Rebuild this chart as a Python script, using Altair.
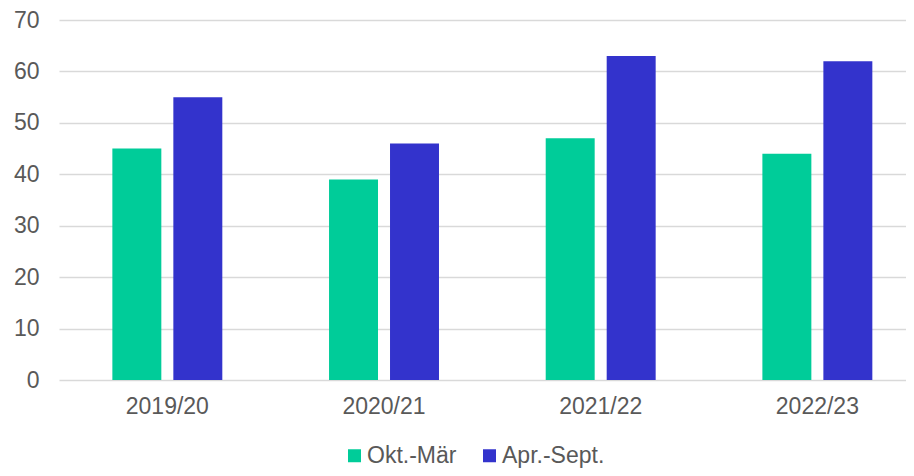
import altair as alt
import pandas as pd

seasons = ["2019/20", "2020/21", "2021/22", "2022/23"]
series = ["Okt.-Mär", "Apr.-Sept."]
okt_maer = [45, 39, 47, 44]
apr_sept = [55, 46, 63, 62]
colors = ["#00CC99", "#3333CC"]
y_ticks = [0, 10, 20, 30, 40, 50, 60, 70]

rows = []
for i, s in enumerate(seasons):
    rows.append({"season": s, "series": series[0], "value": okt_maer[i]})
    rows.append({"season": s, "series": series[1], "value": apr_sept[i]})
df = pd.DataFrame(rows)

FONT = "Liberation Sans"
TXT = "#595959"

chart = alt.Chart(df).mark_bar().encode(
    x=alt.X("season:N", sort=seasons, title=None,
            scale=alt.Scale(range=[0, 866.7], paddingInner=0, paddingOuter=0),
            axis=alt.Axis(labelAngle=0, domain=False, ticks=False, labelPadding=15,
                          labelFontSize=23, labelColor=TXT, labelFont=FONT, grid=False)),
    xOffset=alt.XOffset("series:N", sort=series,
                        scale=alt.Scale(paddingInner=0.197, paddingOuter=0.875)),
    y=alt.Y("value:Q", title=None,
            scale=alt.Scale(domain=[0, 70], nice=False),
            axis=alt.Axis(values=y_ticks, domain=False, ticks=False, labelPadding=20,
                          labelFontSize=23, labelColor=TXT, labelFont=FONT,
                          gridColor="#d9d9d9", gridWidth=1.3)),
    color=alt.Color("series:N", sort=series,
                    scale=alt.Scale(domain=series, range=colors),
                    legend=alt.Legend(title=None, orient="none", direction="horizontal",
                                      legendX=284, legendY=424, padding=0,
                                      symbolType="square", symbolSize=169,
                                      symbolStrokeWidth=0, labelOffset=1,
                                      columnPadding=21, labelFontSize=23,
                                      labelColor=TXT, labelFont=FONT)),
).properties(
    width=847, height=360,
    autosize=alt.AutoSizeParams(type="none"),
    padding={"left": 51, "top": 12, "right": 0, "bottom": 88},
).configure_view(stroke=None)

chart.save("out.html", embed_options={"renderer": "svg", "actions": False})
